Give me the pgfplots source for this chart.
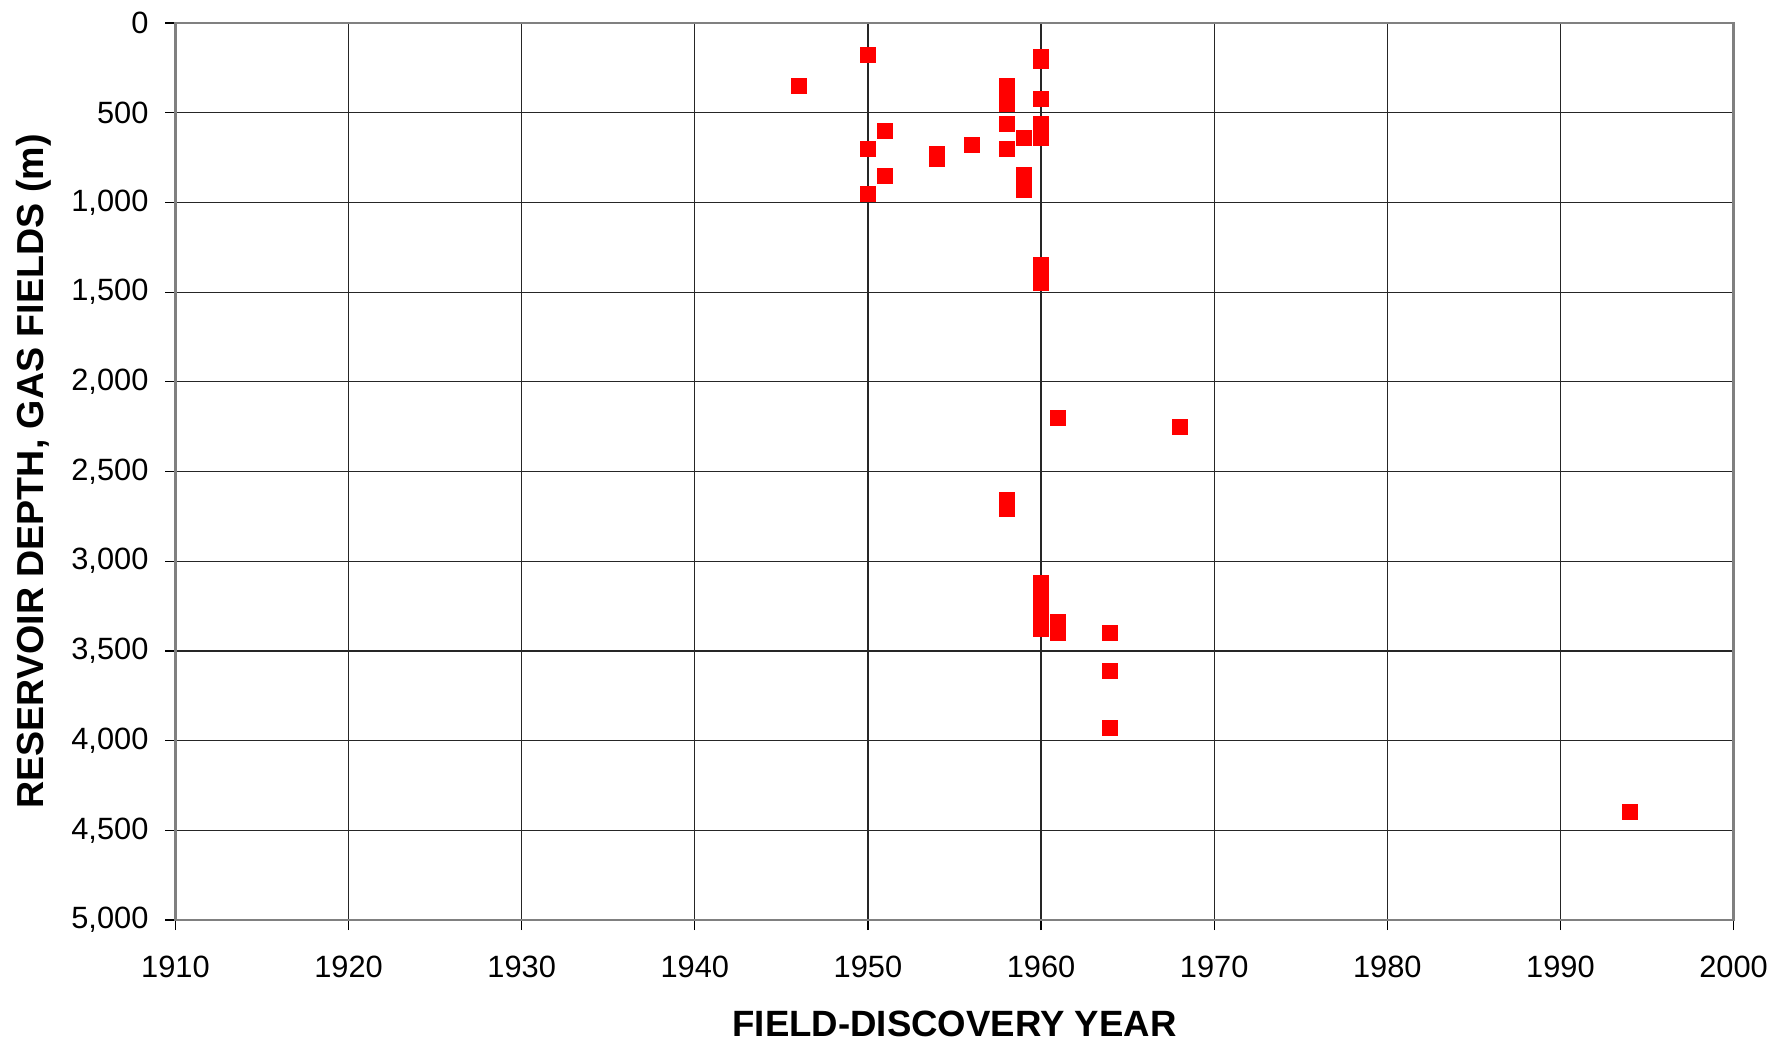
\documentclass[border=0pt]{standalone}
\usepackage{fontspec}
\setmainfont{Liberation Sans}
\usepackage{pgfplots}
\pgfplotsset{compat=1.18}
\begin{document}
\begin{tikzpicture}
\path[use as bounding box] (-87.75pt,-61pt) rectangle (799.75pt,460pt);
\begin{axis}[
  at={(0,0)}, anchor=south west,
  scale only axis, width=779pt, height=448.5pt,
  xmin=1910, xmax=2000, ymin=0, ymax=5000,
  y dir=reverse,
  xtick={1910,1920,...,2000}, ytick={0,500,...,5000},
  grid=major,
  major grid style={black!85, line width=0.6pt},
  axis line style={black!50, line width=1.2pt},
  tick style={black, line width=0.6pt},
  tick align=outside, major tick length=5pt,
  xtick pos=bottom, ytick pos=left,
  /pgf/number format/assume math mode=true,
  /pgf/number format/.cd, 1000 sep={,},
  /pgfplots/.cd,
  xticklabel style={/pgf/number format/1000 sep={}, font=\fontsize{15.4}{18}\selectfont, yshift=-9.5pt},
  yticklabel style={font=\fontsize{15.4}{18}\selectfont, xshift=-5pt},
  xlabel={\textbf{FIELD-DISCOVERY YEAR}},
  ylabel={\textbf{RESERVOIR DEPTH, GAS FIELDS (m)}},
  xlabel style={font=\fontsize{18.3}{21}\selectfont, at={(axis description cs:0.5,0)}, anchor=center, yshift=-52pt},
  ylabel style={font=\fontsize{18.8}{21}\selectfont, at={(axis description cs:-0.0908,0.5)}, anchor=center},
]
\addplot[only marks, mark=square*, mark size=3.75pt, mark options={fill=red, draw=red}] coordinates {
(1946,350) (1950,180) (1950,700) (1950,950) (1951,600) (1951,850)
(1954,730) (1954,760) (1956,680)
(1958,350) (1958,380) (1958,420) (1958,450) (1958,560) (1958,700) (1958,2660) (1958,2710)
(1959,640) (1959,845) (1959,880) (1959,930)
(1960,190) (1960,210) (1960,425) (1960,560) (1960,600) (1960,640)
(1960,1350) (1960,1400) (1960,1450)
(1960,3120) (1960,3150) (1960,3240) (1960,3290) (1960,3340) (1960,3380)
(1961,2200) (1961,3340) (1961,3400)
(1964,3400) (1964,3610) (1964,3930)
(1968,2250) (1994,4400)
};
\end{axis}
\end{tikzpicture}
\end{document}
